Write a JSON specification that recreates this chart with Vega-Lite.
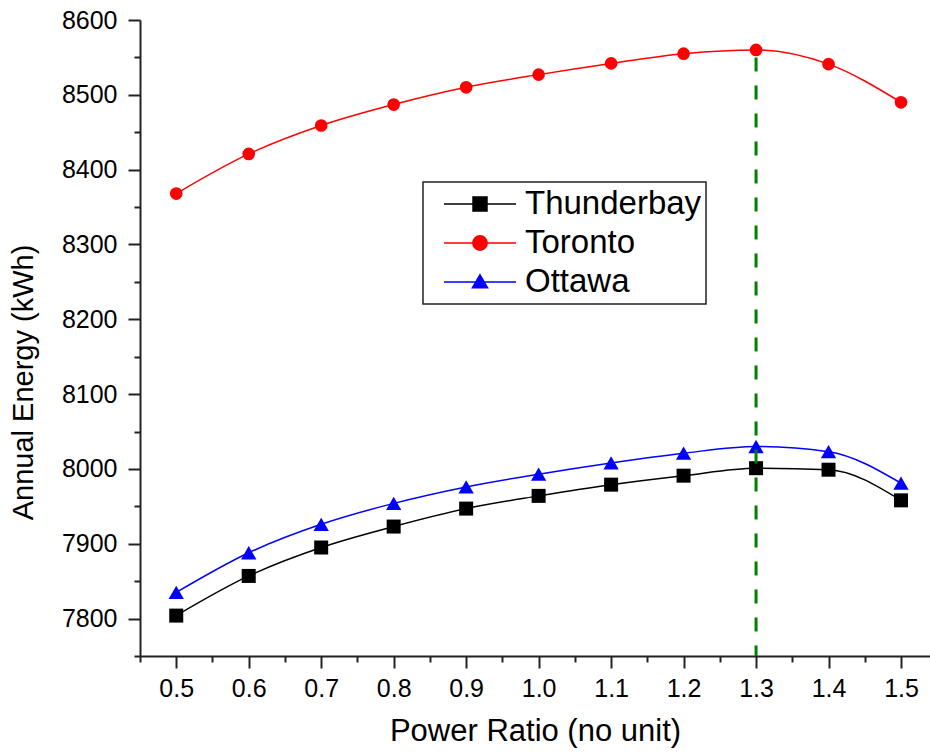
{
  "$schema": "https://vega.github.io/schema/vega-lite/v6.json",
  "width": 790,
  "height": 636,
  "autosize": {"type": "none"},
  "padding": {"left": 140, "top": 20, "right": 0, "bottom": 99},
  "background": "white",
  "config": {
    "view": {"stroke": null},
    "font": "Liberation Sans",
    "axis": {
      "grid": false,
      "domainColor": "#222222",
      "domainWidth": 2,
      "tickColor": "#222222",
      "tickWidth": 2,
      "labelFont": "Liberation Sans",
      "labelFontSize": 25,
      "labelColor": "black",
      "titleFont": "Liberation Sans",
      "titleFontSize": 30,
      "titleFontWeight": "normal",
      "titleColor": "black",
      "labelOverlap": false,
      "labelFlush": false
    },
    "legend": {
      "title": null,
      "orient": "none",
      "legendX": 283,
      "legendY": 162,
      "padding": 4,
      "strokeColor": "#222222",
      "fillColor": "white",
      "clipHeight": 36,
      "rowPadding": 3,
      "symbolOffset": 16,
      "labelOffset": 8,
      "labelFont": "Liberation Sans",
      "labelFontSize": 33,
      "labelColor": "black",
      "symbolSize": 5184,
      "symbolStrokeWidth": 1.5,
      "labelLimit": 400
    }
  },
  "datasets": {
    "energy": [
      {"ratio": 0.5, "energy": 7804, "city": "Thunderbay"},
      {"ratio": 0.6, "energy": 7857, "city": "Thunderbay"},
      {"ratio": 0.7, "energy": 7895, "city": "Thunderbay"},
      {"ratio": 0.8, "energy": 7923, "city": "Thunderbay"},
      {"ratio": 0.9, "energy": 7947, "city": "Thunderbay"},
      {"ratio": 1.0, "energy": 7964, "city": "Thunderbay"},
      {"ratio": 1.1, "energy": 7979, "city": "Thunderbay"},
      {"ratio": 1.2, "energy": 7991, "city": "Thunderbay"},
      {"ratio": 1.3, "energy": 8001, "city": "Thunderbay"},
      {"ratio": 1.4, "energy": 7999, "city": "Thunderbay"},
      {"ratio": 1.5, "energy": 7958, "city": "Thunderbay"},
      {"ratio": 0.5, "energy": 8368, "city": "Toronto"},
      {"ratio": 0.6, "energy": 8421, "city": "Toronto"},
      {"ratio": 0.7, "energy": 8459, "city": "Toronto"},
      {"ratio": 0.8, "energy": 8487, "city": "Toronto"},
      {"ratio": 0.9, "energy": 8510, "city": "Toronto"},
      {"ratio": 1.0, "energy": 8527, "city": "Toronto"},
      {"ratio": 1.1, "energy": 8542, "city": "Toronto"},
      {"ratio": 1.2, "energy": 8555, "city": "Toronto"},
      {"ratio": 1.3, "energy": 8560, "city": "Toronto"},
      {"ratio": 1.4, "energy": 8541, "city": "Toronto"},
      {"ratio": 1.5, "energy": 8490, "city": "Toronto"},
      {"ratio": 0.5, "energy": 7835, "city": "Ottawa"},
      {"ratio": 0.6, "energy": 7888, "city": "Ottawa"},
      {"ratio": 0.7, "energy": 7926, "city": "Ottawa"},
      {"ratio": 0.8, "energy": 7954, "city": "Ottawa"},
      {"ratio": 0.9, "energy": 7976, "city": "Ottawa"},
      {"ratio": 1.0, "energy": 7993, "city": "Ottawa"},
      {"ratio": 1.1, "energy": 8008, "city": "Ottawa"},
      {"ratio": 1.2, "energy": 8021, "city": "Ottawa"},
      {"ratio": 1.3, "energy": 8030, "city": "Ottawa"},
      {"ratio": 1.4, "energy": 8023, "city": "Ottawa"},
      {"ratio": 1.5, "energy": 7981, "city": "Ottawa"}
    ],
    "optimum": [
      {"ratio": 1.3, "top": 8550, "bottom": 7750}
    ]
  },
  "encoding": {
    "x": {
      "field": "ratio",
      "type": "quantitative",
      "scale": {"domain": [0.45, 1.54], "nice": false, "zero": false},
      "axis": {
        "title": "Power Ratio (no unit)",
        "titleFontSize": 31,
        "values": [0.45, 0.5, 0.55, 0.6, 0.65, 0.7, 0.75, 0.8, 0.85, 0.9, 0.95, 1.0, 1.05, 1.1, 1.15, 1.2, 1.25, 1.3, 1.35, 1.4, 1.45, 1.5],
        "labelExpr": "abs(datum.value * 10 - round(datum.value * 10)) < 0.001 ? format(datum.value, '.1f') : ''",
        "tickSize": {"condition": {"test": "abs(datum.value * 10 - round(datum.value * 10)) < 0.001", "value": 12}, "value": 6},
        "labelPadding": 8,
        "titleY": 60
      }
    },
    "y": {
      "field": "energy",
      "type": "quantitative",
      "scale": {"domain": [7750, 8600], "nice": false, "zero": false},
      "axis": {
        "title": "Annual Energy (kWh)",
        "titleFontSize": 29,
        "values": [7750, 7800, 7850, 7900, 7950, 8000, 8050, 8100, 8150, 8200, 8250, 8300, 8350, 8400, 8450, 8500, 8550, 8600],
        "labelExpr": "datum.value % 100 === 0 ? format(datum.value, 'd') : ''",
        "tickSize": {"condition": {"test": "datum.value % 100 === 0", "value": 12}, "value": 6},
        "labelPadding": 11,
        "titleX": -102,
        "titleY": 362
      }
    },
    "color": {
      "field": "city",
      "type": "nominal",
      "scale": {"domain": ["Thunderbay", "Toronto", "Ottawa"], "range": ["#000000", "#ff0000", "#0000ff"]},
      "legend": {
        "encode": {
          "legend": {"update": {"strokeWidth": {"value": 1.5}}},
          "symbols": {
            "update": {
              "shape": {"signal": "datum.value === 'Thunderbay' ? 'M-1,0H1M-0.194,-0.194H0.194V0.194H-0.194Z' : datum.value === 'Toronto' ? 'M-1,0H1M-0.2,0A0.2,0.2,0,1,1,0.2,0A0.2,0.2,0,1,1,-0.2,0Z' : 'M-1,0H1M0,-0.2L0.21,0.16L-0.21,0.16Z'"},
              "fill": {"signal": "datum.value === 'Thunderbay' ? '#000000' : datum.value === 'Toronto' ? '#ff0000' : '#0000ff'"},
              "stroke": {"signal": "datum.value === 'Thunderbay' ? '#000000' : datum.value === 'Toronto' ? '#ff0000' : '#0000ff'"},
              "strokeWidth": {"value": 1.5},
              "size": {"value": 5184},
              "opacity": {"value": 1}
            }
          }
        }
      }
    }
  },
  "layer": [
    {
      "data": {"name": "energy"},
      "mark": {"type": "line", "interpolate": "monotone", "strokeWidth": 1.5}
    },
    {
      "data": {"name": "energy"},
      "transform": [{"filter": "datum.city === 'Thunderbay'"}],
      "mark": {"type": "point", "filled": true, "opacity": 1, "shape": "square", "size": 196}
    },
    {
      "data": {"name": "energy"},
      "transform": [{"filter": "datum.city === 'Toronto'"}],
      "mark": {"type": "point", "filled": true, "opacity": 1, "shape": "circle", "size": 160}
    },
    {
      "data": {"name": "energy"},
      "transform": [{"filter": "datum.city === 'Ottawa'"}],
      "mark": {"type": "point", "filled": true, "opacity": 1, "shape": "triangle-up", "size": 235}
    },
    {
      "data": {"name": "optimum"},
      "mark": {"type": "rule", "color": "#008000", "strokeWidth": 3, "strokeDash": [14, 14]},
      "encoding": {
        "x": {"field": "ratio", "type": "quantitative"},
        "y": {"field": "top", "type": "quantitative"},
        "y2": {"field": "bottom"},
        "color": {"value": "#008000"}
      }
    }
  ]
}
